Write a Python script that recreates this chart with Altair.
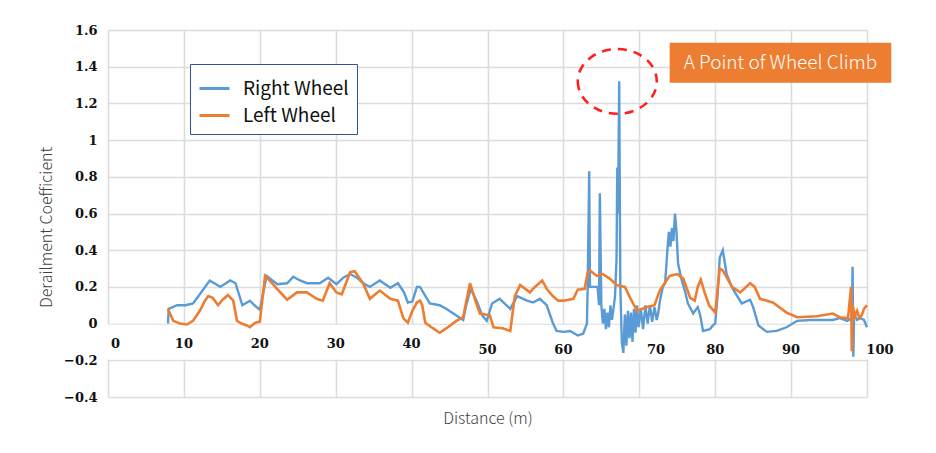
import altair as alt
import pandas as pd

# ---------------- data ----------------
series_names = ["Right Wheel", "Left Wheel"]
series_colors = ["#5B9BD5", "#ED7D31"]

right_x = [7.9, 8.0, 9.1, 10.2, 11.2, 12.1, 13.4, 14.8, 16.1, 16.8, 17.7, 18.7, 19.3, 20.0,
           20.9, 22.3, 23.6, 24.4, 25.3, 26.2, 27.9, 29.0, 30.1, 31.0, 31.9, 32.8, 33.6, 34.5,
           35.8, 37.2, 38.2, 39.0, 39.5, 40.1, 40.7, 41.1, 42.4, 43.7, 44.6, 45.5, 46.8, 47.2,
           47.8, 48.6, 49.3, 49.9, 50.6, 51.6, 53.0, 53.9, 55.2, 56.0, 56.9, 57.8, 58.6, 59.1,
           60.0, 60.9, 61.9, 62.6, 63.1, 63.2, 63.4, 63.5, 64.0, 64.5, 64.7, 64.8, 65.0, 65.2,
           65.4, 65.6, 65.8, 66.0, 66.2, 66.4, 66.6, 66.8, 67.0, 67.1, 67.2, 67.35, 67.5, 67.7,
           67.9, 68.1, 68.3, 68.5, 68.7, 68.9, 69.1, 69.3, 69.5, 69.7, 69.9, 70.2, 70.5, 70.8,
           71.1, 71.4, 71.7, 72.0, 72.3, 72.5, 72.7, 73.1, 73.4, 73.7, 73.9, 74.1, 74.3, 74.5,
           74.7, 74.9, 75.1, 75.5, 76.0, 76.4, 77.1, 77.7, 78.0, 78.4, 79.3, 79.7, 80.0, 80.3,
           80.6, 81.0, 81.5, 82.3, 83.5, 84.6, 85.0, 85.7, 86.8, 88.1, 89.4, 90.8, 92.5, 95.5,
           96.4, 97.4, 98.0, 98.1, 98.2, 98.3, 98.7, 99.1, 99.6, 100.0]
right_y = [0.0, 0.08, 0.1, 0.1, 0.11, 0.16, 0.235, 0.2, 0.235, 0.22, 0.1, 0.125, 0.1, 0.075,
           0.26, 0.215, 0.22, 0.255, 0.235, 0.22, 0.22, 0.25, 0.215, 0.25, 0.27, 0.25, 0.22, 0.2,
           0.235, 0.195, 0.22, 0.17, 0.115, 0.12, 0.2, 0.2, 0.11, 0.1, 0.08, 0.055, 0.02, 0.1,
           0.19, 0.12, 0.045, 0.015, 0.11, 0.135, 0.08, 0.15, 0.125, 0.115, 0.135, 0.1, 0.005, -0.04,
           -0.045, -0.04, -0.065, -0.055, 0.0, 0.2, 0.83, 0.2, 0.2, 0.2, 0.1, 0.71, 0.1, 0.0,
           0.08, -0.03, 0.06, -0.02, 0.1, 0.02, 0.08, 0.15, 0.35, 0.85, 0.6, 1.32, 0.2, -0.1,
           -0.16, 0.05, -0.12, 0.07, -0.08, 0.06, -0.1, 0.08, -0.05, 0.1, -0.02, 0.08, -0.03, 0.1,
           0.0, 0.1, 0.01, 0.09, 0.02, 0.06, 0.12, 0.2, 0.22, 0.4, 0.5, 0.42, 0.52, 0.45,
           0.6, 0.5, 0.33, 0.25, 0.18, 0.11, 0.055, 0.09, 0.05, -0.04, -0.03, -0.01, 0.0, 0.15,
           0.36, 0.4, 0.27, 0.19, 0.11, 0.13, 0.09, -0.01, -0.045, -0.04, -0.02, 0.015, 0.02, 0.02,
           0.03, 0.015, 0.03, 0.31, -0.18, 0.05, 0.02, 0.03, 0.02, -0.02]

left_x = [7.9, 8.6, 9.5, 10.4, 11.2, 12.1, 12.7, 13.2, 13.8, 14.5, 15.1, 15.8, 16.5, 17.0,
          17.6, 18.3, 18.7, 19.4, 20.0, 20.7, 21.6, 22.7, 23.6, 24.9, 26.2, 27.5, 28.3, 29.2,
          30.1, 30.8, 31.9, 32.5, 33.6, 34.5, 35.8, 37.2, 38.2, 38.9, 39.5, 40.1, 40.7, 41.1,
          41.4, 41.8, 42.8, 43.7, 44.6, 45.9, 46.8, 47.2, 47.7, 48.4, 49.0, 50.3, 50.8, 52.0,
          53.0, 53.6, 54.3, 55.6, 56.0, 57.2, 57.8, 58.6, 59.3, 60.0, 61.3, 61.9, 62.8, 63.2,
          63.5, 64.4, 65.2, 66.1, 67.0, 68.1, 68.8, 69.7, 71.0, 72.0, 72.7, 74.0, 75.0, 75.8,
          76.7, 77.3, 77.7, 78.1, 78.6, 79.2, 80.0, 80.6, 81.0, 82.2, 83.3, 84.6, 85.2, 85.9,
          87.6, 89.4, 90.8, 93.4, 95.5, 96.4, 97.5, 97.9, 98.0, 98.1, 98.4, 98.7, 99.0, 99.3,
          99.6, 100.0]
left_y = [0.08, 0.015, 0.0, -0.005, 0.015, 0.07, 0.12, 0.15, 0.14, 0.1, 0.13, 0.155, 0.125, 0.015,
          0.0, -0.01, -0.02, 0.005, 0.01, 0.26, 0.22, 0.17, 0.13, 0.17, 0.17, 0.135, 0.125, 0.22,
          0.17, 0.16, 0.28, 0.285, 0.22, 0.135, 0.18, 0.135, 0.125, 0.03, 0.005, 0.07, 0.115, 0.125,
          0.1, 0.005, -0.025, -0.05, -0.025, 0.015, 0.035, 0.12, 0.22, 0.125, 0.055, 0.045, -0.02, -0.025,
          -0.04, 0.15, 0.21, 0.17, 0.19, 0.235, 0.19, 0.15, 0.125, 0.125, 0.135, 0.185, 0.19, 0.28,
          0.29, 0.26, 0.27, 0.245, 0.21, 0.2, 0.14, 0.07, 0.09, 0.1, 0.18, 0.26, 0.27, 0.245,
          0.14, 0.125, 0.2, 0.24, 0.17, 0.1, 0.06, 0.3, 0.29, 0.2, 0.17, 0.22, 0.2, 0.135,
          0.115, 0.06, 0.035, 0.04, 0.055, 0.035, 0.03, 0.2, -0.15, 0.1, 0.04, 0.07, 0.03, 0.045,
          0.08, 0.1]

x_ticks = [0, 10, 20, 30, 40, 50, 60, 70, 80, 90, 100]
y_ticks = [-0.4, -0.2, 0, 0.2, 0.4, 0.6, 0.8, 1.0, 1.2, 1.4, 1.6]

annotation_text = "A Point of Wheel Climb"
climb_point = {"distance": 67.1, "coef": 1.32}
annotation_box = {"distance": 74.0, "distance2": 103.2, "coef": 1.313, "coef2": 1.531}

# ---------------- tables ----------------
right_df = pd.DataFrame({"distance": right_x, "coef": right_y, "series": series_names[0]})
left_df = pd.DataFrame({"distance": left_x, "coef": left_y, "series": series_names[1]})

label_shift = {0: 1.0, 70: 2.2, 100: 1.7}
xlab_df = pd.DataFrame({
    "tick": x_ticks,
    "distance": [t + label_shift.get(t, 0) for t in x_ticks],
    "coef": [-0.11 if t < 50 else -0.145 for t in x_ticks],
    "label": [str(t) for t in x_ticks],
})
band_df = pd.DataFrame({"distance": [-0.6], "distance2": [100.6], "coef": [-0.196], "coef2": [-0.006]})
box_df = pd.DataFrame([annotation_box])
ann_text_df = pd.DataFrame({"distance": [(annotation_box["distance"] + annotation_box["distance2"]) / 2],
                            "coef": [(annotation_box["coef"] + annotation_box["coef2"]) / 2],
                            "label": [annotation_text]})
circle_df = pd.DataFrame([climb_point])

# ---------------- scales & encodings ----------------
xs = alt.Scale(domain=[0, 100], nice=False, zero=False)
ys = alt.Scale(domain=[-0.4, 1.6], nice=False, zero=False)
cs = alt.Scale(domain=series_names, range=series_colors)

SANS = "Noto Sans CJK KR"
SERIF = "DejaVu Serif"

x_axis = alt.Axis(values=x_ticks, labels=False, ticks=False, domain=False, grid=True,
                  gridColor="#dcdcdc", gridWidth=1.6,
                  title="Distance (m)", titleFont=SANS, titleFontWeight=300,
                  titleFontSize=16, titleColor="#404040", titleY=21, titleBaseline="middle")
y_axis = alt.Axis(values=y_ticks, ticks=False, domain=False, grid=True,
                  gridColor="#dcdcdc", gridWidth=1.6,
                  labelFont=SERIF, labelFontWeight="bold", labelFontSize=13, labelColor="#111111",
                  labelPadding=11,
                  labelExpr="datum.value == 0 ? '0' : datum.value == 1 ? '1' : replace(format(datum.value, '.1f'), '-', '\u2212')",
                  title="Derailment Coefficient", titleFont=SANS, titleFontWeight=300,
                  titleFontSize=16, titleColor="#404040", titleX=-54, titleY=197,
                  titleAngle=270, titleAlign="center", titleBaseline="bottom")

X = alt.X("distance:Q", scale=xs, axis=x_axis, title="Distance (m)")
Y = alt.Y("coef:Q", scale=ys, axis=y_axis, title="Derailment Coefficient")

legend = alt.Legend(title=None, orient="none", legendX=82, legendY=34,
                    strokeColor="#2F5597", fillColor="white", padding=8,
                    symbolType="stroke", symbolSize=900, symbolStrokeWidth=3,
                    labelFont=SANS, labelFontSize=19, labelFontWeight="normal", labelColor="#111111",
                    labelOffset=12, rowPadding=-4)

band = alt.Chart(band_df).mark_rect(color="white").encode(
    x=X, x2="distance2:Q", y=Y, y2="coef2:Q")

right_line = alt.Chart(right_df).mark_line(strokeWidth=2.4).encode(
    x=X, y=Y, color=alt.Color("series:N", scale=cs, legend=legend))

left_line = alt.Chart(left_df).mark_line(strokeWidth=2.6).encode(
    x=X, y=Y, color=alt.Color("series:N", scale=cs, legend=legend))

xlabels = alt.Chart(xlab_df).mark_text(font=SERIF, fontWeight="bold", fontSize=13,
                                        color="#111111", baseline="middle").encode(
    x=X, y=Y, text="label:N")

ellipse_path = "M -1 0 A 1 0.82 0 1 0 1 0 A 1 0.82 0 1 0 -1 0 Z"
ellipse = alt.Chart(circle_df).mark_point(shape=ellipse_path, size=6241, filled=False,
                                          stroke="#FF1F1F", strokeWidth=2.6,
                                          strokeDash=[9, 7], opacity=1).encode(x=X, y=Y)

box = alt.Chart(box_df).mark_rect(color="#ED7D31", clip=False).encode(
    x=X, x2="distance2:Q", y=Y, y2="coef2:Q")

box_text = alt.Chart(ann_text_df).mark_text(font=SANS, fontSize=19, fontWeight=300, color="white",
                                            baseline="middle", align="center").encode(
    x=X, y=Y, text="label:N")

chart = alt.layer(band, right_line, left_line, xlabels, ellipse, box, box_text).properties(
    width=759, height=367,
    padding={"left": 100, "top": 22, "right": 61, "bottom": 48},
    autosize=alt.AutoSizeParams(type="none"),
    background="white",
).configure_view(strokeWidth=0)

chart.save("out.html", embed_options={"renderer": "svg", "actions": False})
